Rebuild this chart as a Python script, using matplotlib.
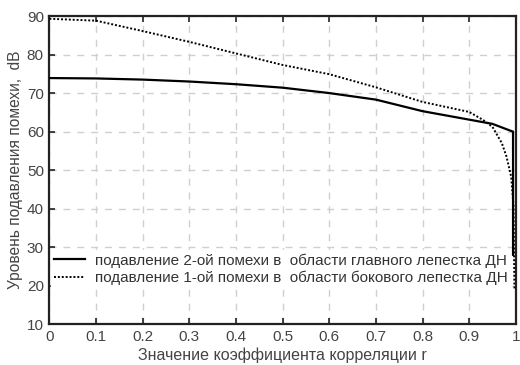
import matplotlib
matplotlib.use("Agg")
import matplotlib.pyplot as plt

# Correlation coefficient r and suppression levels (dB)
r_main = [0.0, 0.1, 0.2, 0.3, 0.4, 0.5, 0.6, 0.7, 0.8, 0.9, 0.95, 0.989, 0.994, 0.994]
sup_main = [73.9, 73.8, 73.5, 73.0, 72.3, 71.4, 70.0, 68.3, 65.3, 63.1, 62.0, 60.2, 60.0, 28.0]

r_side = [0.0, 0.1, 0.2, 0.3, 0.4, 0.5, 0.6, 0.7, 0.8, 0.9, 0.93, 0.95, 0.97, 0.98, 0.99, 0.995, 0.997]
sup_side = [89.3, 88.8, 86.1, 83.3, 80.3, 77.3, 74.9, 71.5, 67.7, 65.1, 63.0, 61.2, 57.0, 53.5, 48.3, 40.6, 19.0]

x_ticks = [0, 0.1, 0.2, 0.3, 0.4, 0.5, 0.6, 0.7, 0.8, 0.9, 1]
x_labels = ["0", "0.1", "0.2", "0.3", "0.4", "0.5", "0.6", "0.7", "0.8", "0.9", "1"]
y_ticks = [10, 20, 30, 40, 50, 60, 70, 80, 90]

label_main = "подавление 2-ой помехи в  области главного лепестка ДН"
label_side = "подавление 1-ой помехи в  области бокового лепестка ДН"

plt.rcParams["font.family"] = ["Liberation Sans", "DejaVu Sans"]

fig = plt.figure(figsize=(5.2, 3.65), dpi=100)
ax = fig.add_axes([0.095, 0.112, 0.897, 0.844])

ax.plot(r_main, sup_main, color="black", lw=1.6, label=label_main, zorder=3)
ax.plot(r_side, sup_side, color="black", lw=1.4, linestyle=(0, (1, 1)), label=label_side, zorder=3)

ax.set_xlim(0, 1)
ax.set_ylim(10, 90)
ax.set_xticks(x_ticks)
ax.set_xticklabels(x_labels)
ax.set_yticks(y_ticks)

ax.grid(True, color="#cfcfcf", lw=1.0, linestyle=(0, (5, 5)))
ax.set_axisbelow(True)

for s in ax.spines.values():
    s.set_linewidth(1.6)
    s.set_color("#222222")

ax.tick_params(direction="in", length=4, width=1.2, top=True, right=False,
               labelsize=11, labelcolor="#444444", color="#222222", pad=4)

ax.set_xlabel("Значение коэффициента корреляции r", fontsize=11.5, color="#444444", labelpad=3)
ax.set_ylabel("Уровень подавления помехи,  dB", fontsize=11.2, color="#444444", labelpad=3)

leg = ax.legend(loc="lower left", bbox_to_anchor=(0.0, 0.112), frameon=True, fancybox=False,
                framealpha=1.0, edgecolor="white", fontsize=11, handlelength=2.0,
                handletextpad=0.7, borderaxespad=0.1, borderpad=0.2, labelspacing=0.2)
leg.set_zorder(2)
for t in leg.get_texts():
    t.set_color("#333333")

fig.savefig("out.png", dpi=100)
